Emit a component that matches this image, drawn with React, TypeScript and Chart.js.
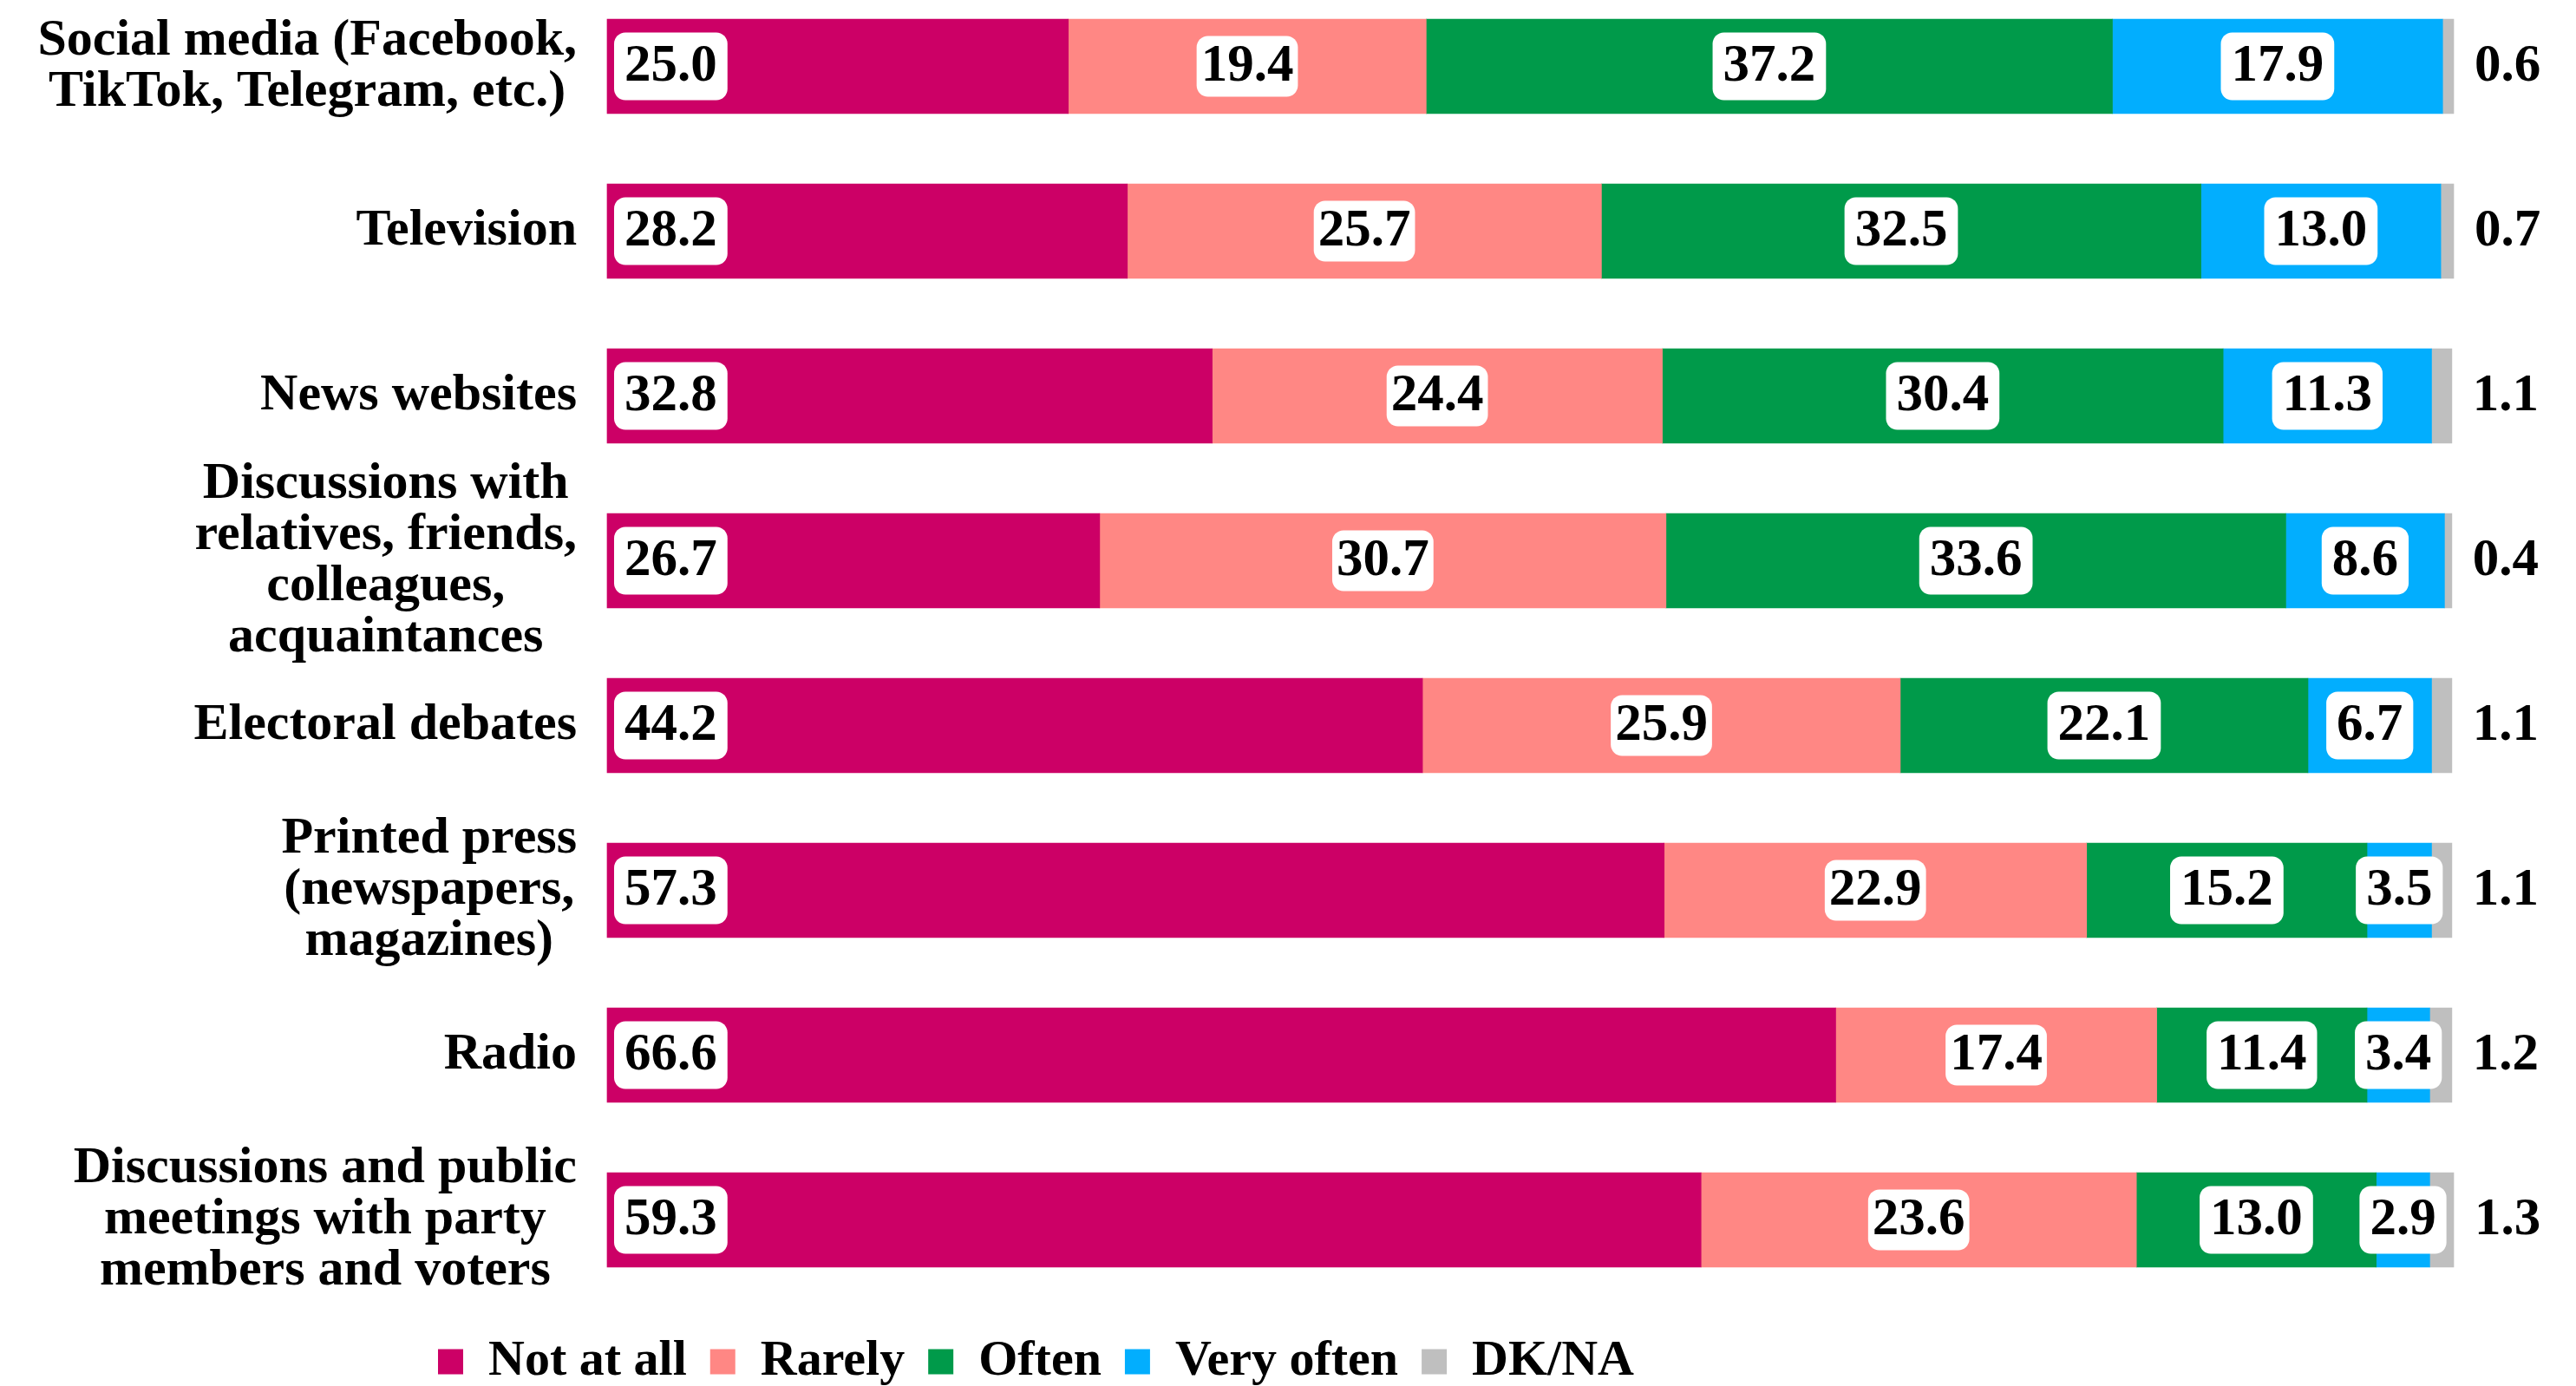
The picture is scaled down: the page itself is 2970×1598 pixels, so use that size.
import React, { useEffect, useRef } from "react";
import { Chart, registerables } from "chart.js";

Chart.register(...registerables);

const categories: string[][] = [
  ["Social media (Facebook,", "TikTok, Telegram, etc.)"],
  ["Television"],
  ["News websites"],
  ["Discussions with", "relatives, friends,", "colleagues,", "acquaintances"],
  ["Electoral debates"],
  ["Printed press", "(newspapers,", "magazines)"],
  ["Radio"],
  ["Discussions and public", "meetings with party", "members and voters"],
];

const seriesNames = ["Not at all", "Rarely", "Often", "Very often", "DK/NA"];
const notAtAll = [25.0, 28.2, 32.8, 26.7, 44.2, 57.3, 66.6, 59.3];
const rarely = [19.4, 25.7, 24.4, 30.7, 25.9, 22.9, 17.4, 23.6];
const often = [37.2, 32.5, 30.4, 33.6, 22.1, 15.2, 11.4, 13.0];
const veryOften = [17.9, 13.0, 11.3, 8.6, 6.7, 3.5, 3.4, 2.9];
const dkna = [0.6, 0.7, 1.1, 0.4, 1.1, 1.1, 1.2, 1.3];
const seriesColors = ["#CC0066", "#FF8784", "#009A4A", "#02AEFE", "#BFBFBF"];

const FONT = '"Liberation Serif", "Times New Roman", serif';
const LEGEND_PAD = 27;

const labelPlugin = {
  id: "customLabels",
  afterLayout(chart: any) {
    const lg = chart.legend;
    if (lg) {
      const h = lg.height;
      lg.left = 505 - LEGEND_PAD;
      lg.top = 1570 - LEGEND_PAD - 29;
      lg.bottom = lg.top + h;
      lg.right = 2970;
      lg.width = lg.right - lg.left;
    }
  },
  afterDatasetsDraw(chart: any) {
    const ctx = chart.ctx as CanvasRenderingContext2D;
    ctx.save();
    ctx.textBaseline = "middle";
    ctx.font = `bold 61px ${FONT}`;
    chart.data.datasets.forEach((ds: any, d: number) => {
      const meta = chart.getDatasetMeta(d);
      meta.data.forEach((el: any, j: number) => {
        const v = ds.data[j] as number;
        const text = v.toFixed(1);
        const { x, y, base } = el.getProps(["x", "y", "base"], true);
        ctx.textAlign = "center";
        if (d === 4) {
          ctx.fillStyle = "#000";
          ctx.fillText(text, x + 62, y + 1);
          return;
        }
        const tw = ctx.measureText(text).width;
        const padX = d === 1 ? 5 : 12;
        const bh = d === 1 ? 70 : 78;
        const bw = tw + padX * 2;
        const left = Math.min(base, x);
        const cx = d === 0 ? left + 8 + bw / 2 : (x + base) / 2;
        ctx.beginPath();
        (ctx as any).roundRect(cx - bw / 2, y - bh / 2, bw, bh, 13);
        ctx.fillStyle = "#fff";
        ctx.fill();
        ctx.fillStyle = "#000";
        ctx.fillText(text, cx, y + 1);
      });
    });

    const yScale = chart.scales.y;
    ctx.font = `bold 60px ${FONT}`;
    ctx.fillStyle = "#000";
    ctx.textAlign = "center";
    categories.forEach((lines, i) => {
      const cy = yScale.getPixelForValue(i);
      const W = Math.max(...lines.map((l) => ctx.measureText(l).width));
      const cx = chart.chartArea.left - 35 - W / 2;
      lines.forEach((l, k) => {
        ctx.fillText(l, cx, cy + (k - (lines.length - 1) / 2) * 59);
      });
    });
    ctx.restore();
  },
};

export default function App() {
  const ref = useRef<HTMLCanvasElement | null>(null);
  useEffect(() => {
    if (!ref.current) return;
    const seriesData = [notAtAll, rarely, often, veryOften, dkna];
    const chart = new Chart(ref.current, {
      type: "bar",
      data: {
        labels: categories.map((c) => c.join(" ")),
        datasets: seriesNames.map((n, i) => ({
          label: n,
          data: seriesData[i],
          backgroundColor: seriesColors[i],
          borderWidth: 0,
          barThickness: 109,
          clip: false as any,
        })),
      },
      options: {
        indexAxis: "y",
        responsive: false,
        animation: false,
        devicePixelRatio: 1,
        layout: { padding: { left: 0, right: 141, top: 76.5, bottom: 96.5 } },
        scales: {
          x: { stacked: true, min: 0, max: 100.1, display: false },
          y: {
            stacked: true,
            offset: false,
            grid: { display: false, drawTicks: false },
            border: { display: false },
            ticks: { display: false },
            afterFit: (s: any) => {
              s.width = 700;
            },
          },
        },
        plugins: {
          legend: {
            position: "bottom",
            align: "start",
            labels: {
              boxWidth: 29,
              boxHeight: 29,
              padding: LEGEND_PAD,
              color: "#000",
              font: { family: FONT, size: 58, weight: "bold" },
            },
          },
          tooltip: { enabled: false },
        },
      } as any,
      plugins: [labelPlugin],
    });
    return () => chart.destroy();
  }, []);
  return (
    <div style={{ position: "absolute", left: 0, top: 0, width: 2970, height: 1598, background: "#fff" }}>
      <canvas ref={ref} width={2970} height={1598} />
    </div>
  );
}
